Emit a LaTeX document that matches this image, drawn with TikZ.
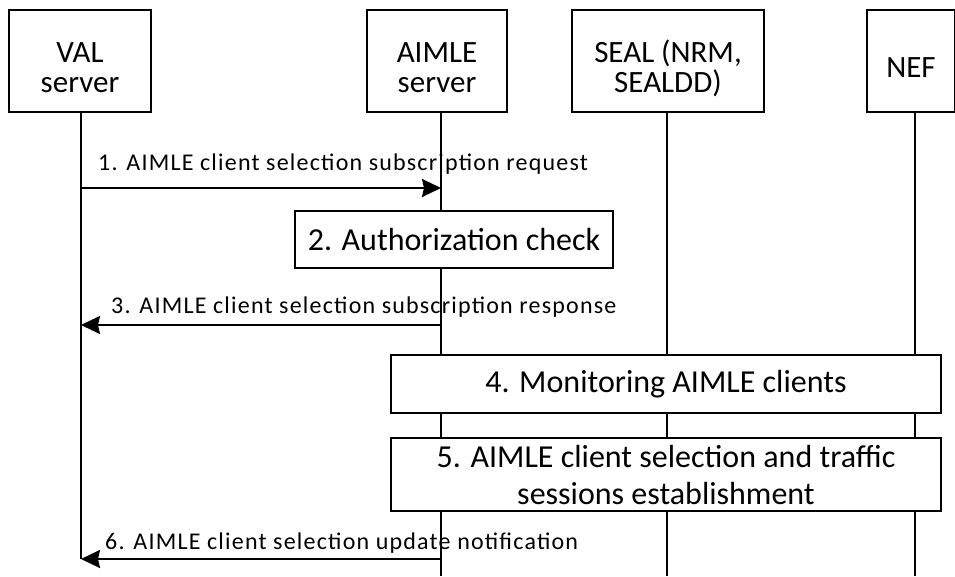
\documentclass[tikz,border=0pt]{standalone}
\usepackage{fontspec}
\setmainfont{Carlito}
\usetikzlibrary{arrows.meta}
\begin{document}
\begin{tikzpicture}[x=1pt,y=-1pt,
  actor/.style={draw, line width=1.3pt, fill=white, minimum height=102pt,
    inner sep=0pt},
  actortext/.style={align=center, inner sep=0pt,
    font=\fontsize{31}{30}\selectfont},
  life/.style={line width=2pt},
  stepbox/.style={draw, line width=1.3pt, fill=white, align=center,
    inner sep=0pt, font=\fontsize{32}{37}\selectfont},
  msg/.style={line width=2pt, -{Stealth[length=19pt,width=18pt,inset=2pt]}},
  lbl/.style={anchor=base west, inner sep=0pt,
    font=\fontsize{24}{24}\selectfont\addfontfeature{LetterSpace=5}}
]
\useasboundingbox (0,0) rectangle (955,576);

% participants
\node[actor, minimum width=142pt] (val)   at (80,61)  {};
\node[actor, minimum width=140pt] (aimle) at (437,61) {};
\node[actor, minimum width=192pt] (seal)  at (668,61) {};
\node[actor, minimum width=88pt]  (nef)   at (911,61) {};
\node[actortext] (valtext)   at ([yshift=-7pt]val.center)   {VAL\\server};
\node[actortext] (aimletext) at ([yshift=-7pt]aimle.center) {AIMLE\\server};
\node[actortext] (sealtext)  at ([yshift=-7pt]seal.center)  {SEAL (NRM,\\SEALDD)};
\node[actortext] (neftext)   at ([yshift=-7pt]nef.center)   {NEF};

% lifeline tops and ends
\coordinate (valtop)   at ([xshift=1pt]val.south);
\coordinate (aimletop) at ([xshift=4pt]aimle.south);
\coordinate (sealtop)  at ([xshift=-1pt]seal.south);
\coordinate (neftop)   at ([xshift=4pt]nef.south);
\coordinate (valend)   at (valtop |- 0,559);
\coordinate (aimleend) at (aimletop |- 0,576);
\coordinate (sealend)  at (sealtop |- 0,576);
\coordinate (nefend)   at (neftop |- 0,576);

\draw[life] (valtop) -- (valend);
\draw[life] (aimletop) -- (aimleend);
\draw[life] (sealtop) -- (sealend);
\draw[life] (neftop) -- (nefend);

% local steps
\node[stepbox, minimum width=318pt, minimum height=57pt] (s2) at (454,239.5)
  {2. Authorization check};
\node[stepbox, minimum width=550pt, minimum height=58pt] (s4) at (666,384)
  {4. Monitoring AIMLE clients};
\node[stepbox, minimum width=550pt, minimum height=73pt] (s5) at (666,474.5)
  {5. AIMLE client selection and traffic\\sessions establishment};

% message end points on the lifelines
\coordinate (m1a) at (valtop |- 0,188);
\coordinate (m1b) at (aimletop |- 0,188);
\coordinate (m3a) at (aimletop |- 0,325);
\coordinate (m3b) at (valtop |- 0,325);
\coordinate (m6a) at (aimletop |- 0,559);
\coordinate (m6b) at (valend);

\draw[msg] (m1a) -- (m1b);
\draw[msg] (m3a) -- (m3b);
\draw[msg] (m6a) -- (m6b);

\node[lbl] (l1) at (98,170) {1. AIMLE client selection subscription request};
\node[lbl] (l3) at (111,313) {3. AIMLE client selection subscription response};
\node[lbl] (l6) at (105,549) {6. AIMLE client selection update notification};
\end{tikzpicture}
\end{document}
